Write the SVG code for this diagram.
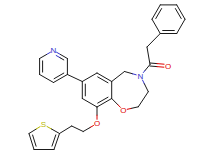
<svg xmlns="http://www.w3.org/2000/svg" width="215" height="160" viewBox="0 0 215 160">
<style>
.b{stroke:#1a1a1a;stroke-width:1;fill:none;stroke-linecap:round}
.n{stroke:#3333CC}
.o{stroke:#E00000}
.s{stroke:#B8B800}
.t{font-family:"Liberation Sans","DejaVu Sans",sans-serif;font-size:8px;text-anchor:middle;dominant-baseline:central}
</style>
<rect width="215" height="160" fill="#fff"/>
<g id="bonds">
<!-- pyridine -->
<line class="b n" x1="56.5" y1="52.2" x2="60.45" y2="54.5"/><line class="b" x1="60.45" y1="54.5" x2="67.4" y2="58.5"/>
<line class="b n" x1="56.2" y1="55.5" x2="60" y2="57.7"/><line class="b" x1="60" y1="57.7" x2="63.8" y2="59.9"/>
<line class="b n" x1="50.5" y1="52.2" x2="46.55" y2="54.5"/><line class="b" x1="46.55" y1="54.5" x2="39.6" y2="58.5"/>
<line class="b" x1="67.4" y1="58.5" x2="67.4" y2="74.5"/>
<line class="b" x1="67.4" y1="74.5" x2="53.5" y2="82.5"/>
<line class="b" x1="63.8" y1="73.1" x2="54.1" y2="78.7"/>
<line class="b" x1="53.5" y1="82.5" x2="39.6" y2="74.5"/>
<line class="b" x1="39.6" y1="74.5" x2="39.6" y2="58.5"/>
<line class="b" x1="42.6" y1="72.1" x2="42.6" y2="60.9"/>
<line class="b" x1="67.4" y1="74.5" x2="82.3" y2="81.5"/>
<!-- benzene -->
<line class="b" x1="82.3" y1="81.5" x2="97" y2="73"/>
<line class="b" x1="97" y1="73" x2="111.7" y2="81.5"/>
<line class="b" x1="97.7" y1="76.9" x2="108" y2="82.8"/>
<line class="b" x1="111.7" y1="81.5" x2="111.7" y2="98.5"/>
<line class="b" x1="111.7" y1="98.5" x2="97" y2="107"/>
<line class="b" x1="108" y1="97.2" x2="97.7" y2="103.1"/>
<line class="b" x1="97" y1="107" x2="82.3" y2="98.5"/>
<line class="b" x1="82.3" y1="98.5" x2="82.3" y2="81.5"/>
<line class="b" x1="85.3" y1="95.9" x2="85.3" y2="84.1"/>
<!-- ether chain -->
<line class="b" x1="97" y1="107" x2="97" y2="115.2"/><line class="b o" x1="97" y1="115.2" x2="97" y2="119.3"/>
<line class="b o" x1="93.5" y1="125.5" x2="90.1" y2="127.5"/><line class="b" x1="90.1" y1="127.5" x2="83.2" y2="131.5"/>
<line class="b" x1="83.2" y1="131.5" x2="71.7" y2="126"/>
<line class="b" x1="71.7" y1="126" x2="59.5" y2="133.5"/>
<!-- thiophene -->
<line class="b s" x1="47" y1="126.5" x2="51.5" y2="129"/><line class="b" x1="51.5" y1="129" x2="59.5" y2="133.5"/>
<line class="b" x1="59.5" y1="133.5" x2="54" y2="149.5"/>
<line class="b" x1="55.8" y1="134.9" x2="52" y2="146.1"/>
<line class="b" x1="54" y1="149.5" x2="34" y2="149.5"/>
<line class="b" x1="34" y1="149.5" x2="29" y2="133.5"/>
<line class="b" x1="36.1" y1="146.2" x2="32.6" y2="135"/>
<line class="b" x1="29" y1="133.5" x2="36.25" y2="129"/><line class="b s" x1="36.25" y1="129" x2="40.1" y2="126.6"/>
<!-- oxazepine -->
<line class="b" x1="111.7" y1="81.5" x2="124.5" y2="71.5"/>
<line class="b" x1="124.5" y1="71.5" x2="132.5" y2="73.75"/><line class="b n" x1="132.5" y1="73.75" x2="136.2" y2="74.8"/>
<line class="b n" x1="142.5" y1="80" x2="144.4" y2="83.85"/><line class="b" x1="144.4" y1="83.85" x2="148.3" y2="91.7"/>
<line class="b" x1="148.3" y1="91.7" x2="138.3" y2="106.8"/>
<line class="b" x1="138.3" y1="106.8" x2="130.8" y2="108.5"/><line class="b o" x1="130.8" y1="108.5" x2="127.2" y2="109.3"/>
<line class="b o" x1="120.5" y1="107.4" x2="117.5" y2="104.35"/><line class="b" x1="117.5" y1="104.35" x2="111.7" y2="98.5"/>
<!-- amide -->
<line class="b n" x1="143.4" y1="72.5" x2="145.25" y2="70.25"/><line class="b" x1="145.25" y1="70.25" x2="150" y2="64.5"/>
<line class="b" x1="149.9" y1="66" x2="157" y2="66.6"/><line class="b o" x1="157" y1="66.6" x2="163.9" y2="67.2"/>
<line class="b" x1="150.1" y1="63" x2="157" y2="63.6"/><line class="b o" x1="157" y1="63.6" x2="164.1" y2="64.2"/>
<line class="b" x1="150" y1="64.5" x2="147" y2="47"/>
<line class="b" x1="147" y1="47" x2="160.25" y2="33.5"/>
<!-- phenyl -->
<line class="b" x1="160.25" y1="33.5" x2="152" y2="19.2"/>
<line class="b" x1="152" y1="19.2" x2="160.25" y2="4.9"/>
<line class="b" x1="155.8" y1="18.55" x2="161.6" y2="8.55"/>
<line class="b" x1="160.25" y1="4.9" x2="176.75" y2="4.9"/>
<line class="b" x1="176.75" y1="4.9" x2="185" y2="19.2"/>
<line class="b" x1="175.4" y1="8.55" x2="181.2" y2="18.55"/>
<line class="b" x1="185" y1="19.2" x2="176.75" y2="33.5"/>
<line class="b" x1="176.75" y1="33.5" x2="160.25" y2="33.5"/>
<line class="b" x1="174.3" y1="30.5" x2="162.7" y2="30.5"/>
</g>
<g id="atom-N-pyridine"><text class="t" x="53.5" y="50.5" fill="#3333CC">N</text></g>
<g id="atom-N-amide"><text class="t" x="140.5" y="76.5" fill="#3333CC">N</text></g>
<g id="atom-O-ether"><text class="t" x="97" y="123.5" fill="#E00000">O</text></g>
<g id="atom-O-ring"><text class="t" x="123.3" y="110.2" fill="#E00000">O</text></g>
<g id="atom-O-carbonyl"><text class="t" x="168" y="66" fill="#E00000">O</text></g>
<g id="atom-S"><text class="t" x="43.5" y="124.5" fill="#B8B800">S</text></g>
</svg>
